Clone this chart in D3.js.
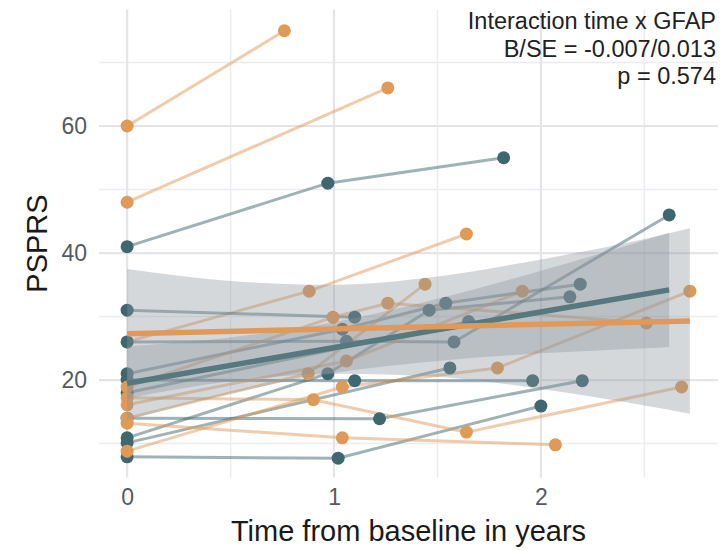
<!DOCTYPE html>
<html>
<head>
<meta charset="utf-8">
<script src="https://cdn.jsdelivr.net/npm/d3@7"></script>
<style>
  html, body { margin: 0; padding: 0; background: #fff; }
  svg { display: block; font-family: "Liberation Sans", Arial, sans-serif; }
</style>
</head>
<body>
<svg id="chart" width="723" height="550"></svg>
<script>
// ---------------- data ----------------
const groups = ["low", "high"];
const groupColors = ["#3f6770", "#e09a58"];
const fitColors = ["#56797f", "#e0995a"];

// individual trajectories: [time in years, PSPRS]
const subjectGroup = ["high","low","low","low","low","low","low","low","low","low","low",
                      "high","high","high","high","high","high","high","high"];
const subjectPoints = [
  [[0,26],[0.88,34],[1.64,43]],
  [[0,41],[0.97,51],[1.82,55]],
  [[0,31],[1.10,29.9]],
  [[0,26],[1.06,26.1],[1.58,26],[2.62,46]],
  [[0,21],[1.04,28],[1.54,32.1],[2.19,35.1]],
  [[0,20],[1.10,19.9],[1.96,19.9]],
  [[0,18],[1.65,29.2]],
  [[0,14],[1.22,13.9],[2.20,19.9]],
  [[0,10.9],[0.97,21],[1.46,31],[2.14,33.1]],
  [[0,10.1],[1.56,21.9]],
  [[0,7.9],[1.02,7.7],[2.00,15.9]],
  [[0,60],[0.76,75]],
  [[0,48],[1.26,66]],
  [[0,8.8],[1.04,18.9],[1.79,21.9],[2.72,34]],
  [[0,17.2],[0.90,16.9],[1.64,11.8],[2.68,18.9]],
  [[0,14],[0.875,21],[1.44,35.1]],
  [[0,13.2],[1.04,10.9],[2.07,9.8]],
  [[0,16.1],[1.06,23],[1.91,34]],
  [[0,18.9],[0.995,29.9],[1.26,32.1],[2.51,29]]
];

// model fits and confidence bands
const bandTime = [[0,0.5,1,1.5,2,2.5,2.62],[0,0.5,1,1.5,2,2.5,2.72]];
const bandLower = [[13.7,17.9,21.1,23.0,24.2,25.0,25.2],[17.1,19.8,21.0,20.5,18.6,16.0,14.7]];
const bandUpper = [[25.3,26.7,29.1,32.8,37.2,42.0,43.2],[37.5,35.6,35.0,36.3,39.0,42.2,43.9]];
const fitLines = [[[0,19.5],[2.62,34.2]],[[0,27.3],[2.72,29.3]]];

const xMajor = [0,1,2];
const xMinor = [0.5,1.5,2.5];
const yMajor = [20,40,60];
const yMinor = [10,30,50,70];
const annotation = ["Interaction time x GFAP","B/SE = -0.007/0.013","p = 0.574"];
const xTitle = "Time from baseline in years";
const yTitle = "PSPRS";

// ---------------- layout ----------------
const svg = d3.select("#chart");
const panel = {left: 99, right: 718, top: 9.5, bottom: 477.5};
const x = d3.scaleLinear().domain([-0.136, 2.856]).range([panel.left, panel.right]);
const y = d3.scaleLinear().domain([4.65, 78.35]).range([panel.bottom, panel.top]);
const colorOf = g => groupColors[groups.indexOf(g)];

// grid
const grid = svg.append("g");
grid.selectAll(".xmin").data(xMinor).join("line")
  .attr("x1", d => x(d)).attr("x2", d => x(d)).attr("y1", panel.top).attr("y2", panel.bottom)
  .attr("stroke", "#ececf0").attr("stroke-width", 1.5);
grid.selectAll(".ymin").data(yMinor).join("line")
  .attr("y1", d => y(d)).attr("y2", d => y(d)).attr("x1", panel.left).attr("x2", panel.right)
  .attr("stroke", "#ececf0").attr("stroke-width", 1.5);
grid.selectAll(".xmaj").data(xMajor).join("line")
  .attr("x1", d => x(d)).attr("x2", d => x(d)).attr("y1", panel.top).attr("y2", panel.bottom)
  .attr("stroke", "#e4e4e9").attr("stroke-width", 2.2);
grid.selectAll(".ymaj").data(yMajor).join("line")
  .attr("y1", d => y(d)).attr("y2", d => y(d)).attr("x1", panel.left).attr("x2", panel.right)
  .attr("stroke", "#e4e4e9").attr("stroke-width", 2.2);

// axes (text only, like theme_minimal)
const yAxis = d3.axisLeft(y).tickValues(yMajor).tickFormat(d3.format("d")).tickSize(0).tickPadding(0);
svg.append("g").attr("transform", `translate(${panel.left - 12},0)`).call(yAxis)
  .call(g => g.select(".domain").remove())
  .selectAll("text").attr("font-size", 23).attr("fill", "#555a5e")
  .attr("font-family", "Liberation Sans, Arial, sans-serif");
const xAxis = d3.axisBottom(x).tickValues(xMajor).tickFormat(d3.format("d")).tickSize(0).tickPadding(0);
svg.append("g").attr("transform", `translate(0,${panel.bottom + 11})`).call(xAxis)
  .call(g => g.select(".domain").remove())
  .selectAll("text").attr("font-size", 23).attr("fill", "#555a5e")
  .attr("font-family", "Liberation Sans, Arial, sans-serif");

// subject lines
const line = d3.line().x(d => x(d[0])).y(d => y(d[1]));
svg.append("g").selectAll("path").data(subjectPoints).join("path")
  .attr("d", line).attr("fill", "none")
  .attr("stroke", (d, i) => colorOf(subjectGroup[i]))
  .attr("stroke-opacity", 0.5).attr("stroke-width", 3);

// subject points
const ptG = svg.append("g");
subjectPoints.forEach((pts, i) => {
  ptG.append("g").selectAll("circle").data(pts).join("circle")
    .attr("cx", d => x(d[0])).attr("cy", d => y(d[1])).attr("r", 6.5)
    .attr("fill", colorOf(subjectGroup[i]));
});

// confidence bands
const area = d3.area().curve(d3.curveMonotoneX)
  .x(d => x(d.t)).y0(d => y(d.lo)).y1(d => y(d.hi));
groups.forEach((g, gi) => {
  const rows = bandTime[gi].map((t, k) => ({t, lo: bandLower[gi][k], hi: bandUpper[gi][k]}));
  svg.append("path").datum(rows).attr("d", area)
    .attr("fill", "#8a939c").attr("fill-opacity", 0.36);
});

// fitted lines
groups.forEach((g, gi) => {
  svg.append("path").datum(fitLines[gi]).attr("d", line)
    .attr("fill", "none").attr("stroke", fitColors[gi]).attr("stroke-width", 5.5);
});

// annotation
svg.append("g").selectAll("text").data(annotation).join("text")
  .attr("x", 716).attr("y", (d, i) => 29 + i * 27.5)
  .attr("text-anchor", "end").attr("font-size", 23.5).attr("fill", "#222")
  .text(d => d);

// axis titles
svg.append("text").attr("x", (panel.left + panel.right) / 2).attr("y", 541)
  .attr("text-anchor", "middle").attr("font-size", 29).attr("fill", "#1a1a1a").text(xTitle);
svg.append("text").attr("transform", `translate(47,${(panel.top + panel.bottom) / 2}) rotate(-90)`)
  .attr("text-anchor", "middle").attr("font-size", 29).attr("fill", "#1a1a1a").text(yTitle);
</script>
</body>
</html>
